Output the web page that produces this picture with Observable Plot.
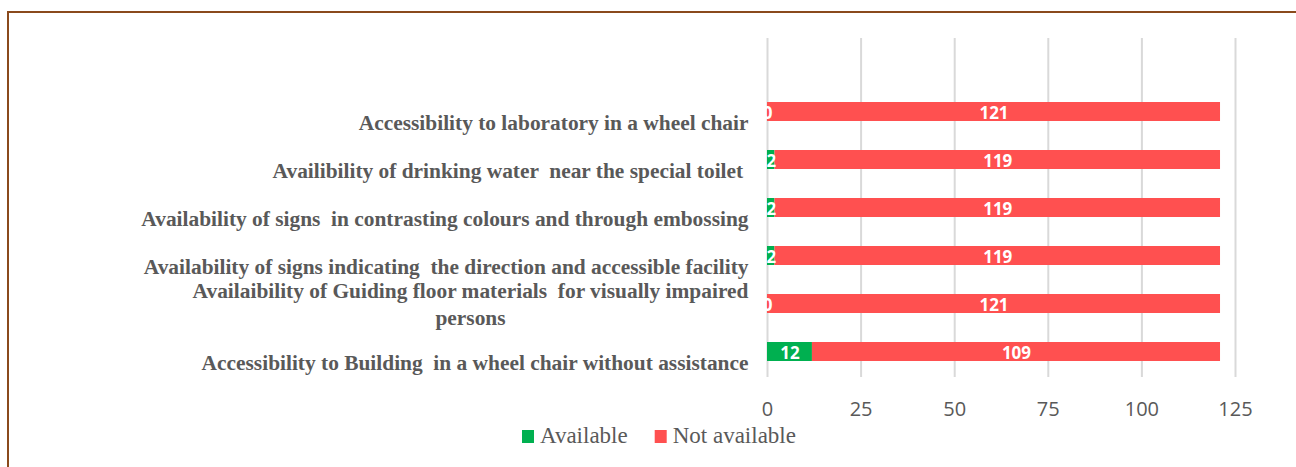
<!DOCTYPE html>
<html>
<head>
<meta charset="utf-8">
<script src="https://cdn.jsdelivr.net/npm/d3@7"></script>
<script src="https://cdn.jsdelivr.net/npm/@observablehq/plot@0.6"></script>
<style>
  html, body { margin: 0; padding: 0; background: #fff; }
  #wrap { position: relative; width: 1296px; height: 467px; overflow: hidden; }
  #frame { position: absolute; left: 7px; top: 11px; right: -10px; bottom: -10px;
           border-left: 2px solid #8A4A1C; border-top: 2px solid #8A4A1C; }
  #chart { position: absolute; left: 0; top: 0; }
  #chart svg text { white-space: pre; }
  #legend { position: absolute; left: 0; top: 420px; }
</style>
</head>
<body>
<div id="wrap">
  <div id="frame"></div>
  <div id="chart"></div>
  <div id="legend"></div>
</div>
<script>
const categories = [
  "Accessibility to laboratory in a wheel chair",
  "Availibility of drinking water  near the special toilet ",
  "Availability of signs  in contrasting colours and through embossing",
  "Availability of signs indicating  the direction and accessible facility",
  "Availaibility of Guiding floor materials  for visually impaired\npersons",
  "Accessibility to Building  in a wheel chair without assistance"
];
const available = [0, 2, 2, 2, 0, 12];
const notAvailable = [121, 119, 119, 119, 121, 109];
const seriesNames = ["Available", "Not available"];
const seriesColors = ["#00B050", "#FF5050"];
const xTicks = [0, 25, 50, 75, 100, 125];
const blankCategory = "";

const data = [];
categories.forEach((c, i) => {
  data.push({category: c, status: seriesNames[0], value: available[i]});
  data.push({category: c, status: seriesNames[1], value: notAvailable[i]});
});

const singleLine = categories.filter(c => !c.includes("\n"));
const multiLine = categories.filter(c => c.includes("\n"));

const labelFont = {fontFamily: "Liberation Serif, serif", fontSize: 21.4, fontWeight: "bold", fill: "#595959"};

const chart = Plot.plot({
  width: 1296,
  height: 420,
  marginLeft: 767,
  marginRight: 61,
  marginTop: 38,
  marginBottom: 43,
  style: {fontFamily: "Open Sans, sans-serif", background: "transparent", overflow: "visible"},
  x: {domain: [0, 125], ticks: xTicks, label: null},
  y: {domain: [blankCategory, ...categories], paddingInner: 0.6, paddingOuter: 0.3, axis: null},
  color: {domain: seriesNames, range: seriesColors},
  marks: [
    Plot.ruleX(xTicks, {stroke: "#d9d9d9", strokeWidth: 2}),
    Plot.barX(data, Plot.stackX({x: "value", y: "category", fill: "status", z: "status"})),
    Plot.text(data, Plot.stackX({x: "value", y: "category", z: "status", text: d => String(d.value),
      fill: "white", fontWeight: "bold", fontSize: 17, dy: 1.5, fontFamily: "Open Sans, sans-serif"})),
    Plot.text(singleLine, {y: d => d, text: d => d, frameAnchor: "left", textAnchor: "end", dx: -19, dy: 11, ...labelFont}),
    Plot.text(multiLine, {y: d => d, text: d => d, frameAnchor: "left", textAnchor: "middle", dx: -297, dy: -1, lineHeight: 1.24, ...labelFont}),
    Plot.axisX({ticks: xTicks, tickSize: 0, tickPadding: 24, fontSize: 20, fill: "#595959", fontFamily: "Open Sans, sans-serif", label: null})
  ]
});
document.getElementById("chart").appendChild(chart);

// Legend (SVG, below the chart)
const lsvg = d3.select("#legend").append("svg").attr("width", 1296).attr("height", 47);
const lg = lsvg.append("g").attr("transform", "translate(522,0)");
let xOff = 0;
seriesNames.forEach((name, i) => {
  const g = lg.append("g").attr("transform", `translate(${xOff},0)`);
  g.append("rect").attr("x", 0).attr("y", 10).attr("width", 12).attr("height", 13).attr("fill", seriesColors[i]);
  const t = g.append("text").attr("x", 18).attr("y", 23)
    .attr("font-family", "Liberation Serif, serif").attr("font-size", 23).attr("fill", "#595959")
    .text(name);
  const w = t.node().getComputedTextLength();
  xOff += 18 + w + 27;
});
</script>
</body>
</html>
